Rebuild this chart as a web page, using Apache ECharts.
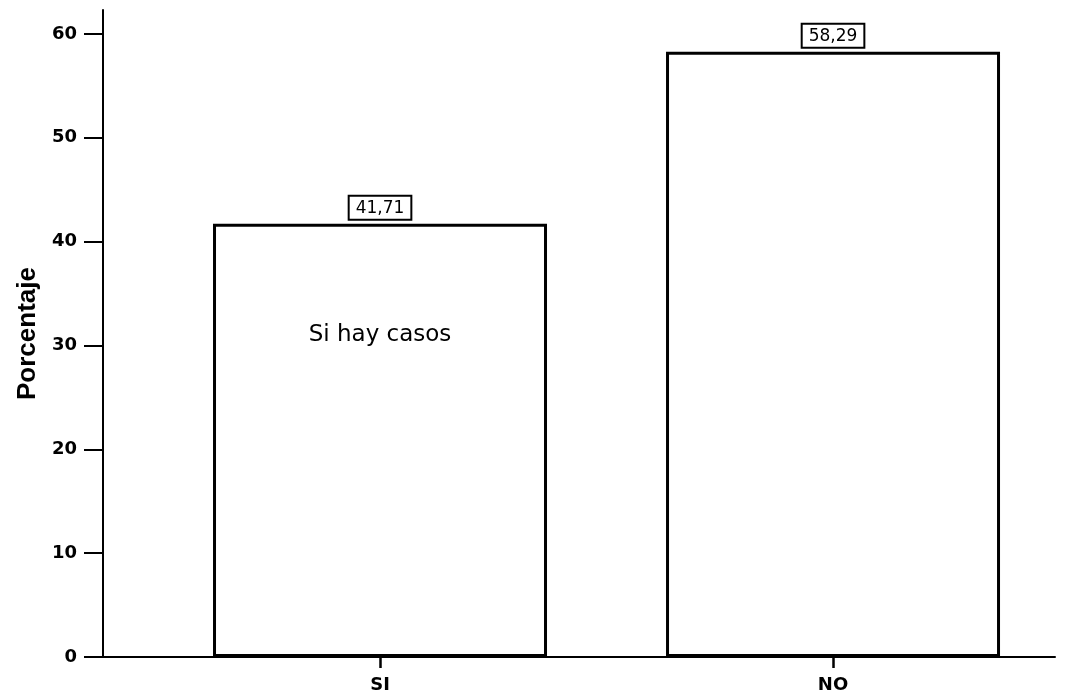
<!DOCTYPE html>
<html>
<head>
<meta charset="utf-8">
<script src="https://cdn.jsdelivr.net/npm/echarts@6/dist/echarts.min.js"></script>
<style>html,body{margin:0;padding:0;background:#fff;}#c{width:1073px;height:695px;}</style>
</head>
<body>
<div id="c"></div>
<script>
const categories = ['SI', 'NO'];
const values = [41.71, 58.29];
const yTicks = [0, 10, 20, 30, 40, 50, 60];
const yTitle = 'Porcentaje';
const note = { text: 'Si hay casos', category: 0, value: 31 };

const font = '"DejaVu Sans", Verdana, sans-serif';
const chart = echarts.init(document.getElementById('c'));
const idx = categories.map((c, i) => i);
chart.setOption({
  backgroundColor: '#fff',
  animation: false,
  grid: { left: 103, right: 18, top: 10, bottom: 38 },
  xAxis: {
    type: 'value',
    min: -0.6115,
    max: 1.49,
    splitLine: { show: false },
    axisLine: { show: true, onZero: false, lineStyle: { color: '#000', width: 2 } },
    axisTick: { show: true, customValues: idx, length: 11, lineStyle: { color: '#000', width: 2.5 } },
    axisLabel: {
      customValues: idx, color: '#000', fontFamily: font, fontSize: 18, fontWeight: 'bold', margin: 19,
      formatter: v => categories[Math.round(v)] || ''
    }
  },
  yAxis: {
    type: 'value',
    min: 0,
    max: 62.3,
    name: yTitle,
    nameLocation: 'middle',
    nameGap: 57,
    nameTextStyle: { color: '#000', fontFamily: '"Liberation Sans Narrow", "Liberation Sans", Arial, sans-serif', fontSize: 26, fontWeight: 'bold' },
    splitLine: { show: false },
    axisLine: { show: true, onZero: false, lineStyle: { color: '#000', width: 2 } },
    axisTick: { show: true, customValues: yTicks, length: 19, lineStyle: { color: '#000', width: 2 } },
    axisLabel: { customValues: yTicks, color: '#000', fontFamily: font, fontSize: 18, fontWeight: 'bold', margin: 26 }
  },
  series: [{
    type: 'bar',
    barWidth: 334,
    data: values.map((v, i) => [i, v]),
    itemStyle: { color: '#fff', borderColor: '#000', borderWidth: 3 },
    label: {
      show: true, position: 'top', distance: 5,
      formatter: p => p.value[1].toFixed(2).replace('.', ','),
      color: '#000', fontFamily: font, fontSize: 17,
      borderColor: '#000', borderWidth: 2, padding: [3, 6, 2, 6], backgroundColor: '#fff'
    },
    markPoint: {
      symbol: 'circle',
      symbolSize: 1,
      itemStyle: { color: 'rgba(0,0,0,0)' },
      data: [{ coord: [note.category, note.value], value: note.text }],
      label: { show: true, position: 'inside', formatter: note.text, color: '#000', fontFamily: font, fontSize: 23 }
    }
  }]
});
</script>
</body>
</html>
